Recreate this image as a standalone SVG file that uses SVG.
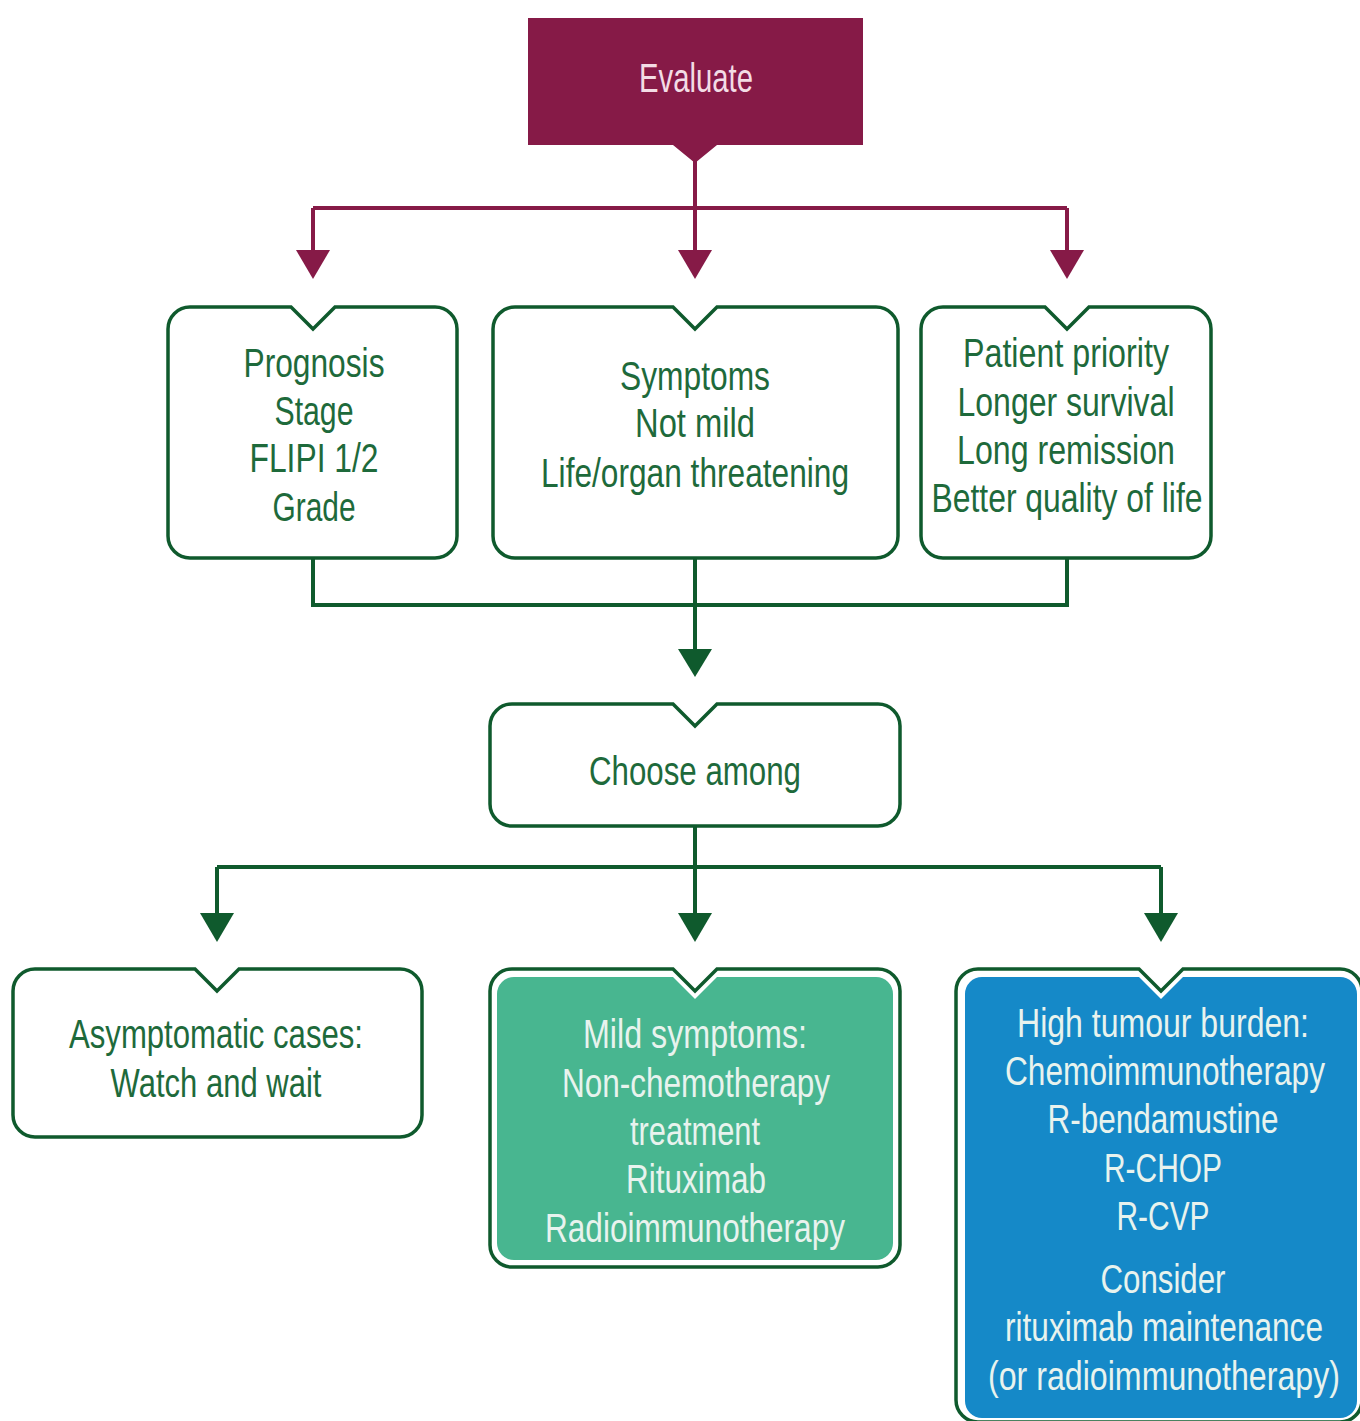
<svg xmlns="http://www.w3.org/2000/svg" width="1360" height="1421" viewBox="0 0 1360 1421">
<defs>
<style>
.t{font-family:"Liberation Sans",Arial,sans-serif;font-size:40px;text-anchor:middle}
.g{fill:#1E6A3B}
.w{fill:#E8F3EE}
.box{fill:#fff;stroke:#0F5A2D;stroke-width:3.5}
.cm{fill:none;stroke:#861A47;stroke-width:4}
.cg{fill:none;stroke:#0F5A2D;stroke-width:4}
</style>
</defs>
<rect width="1360" height="1421" fill="#fff"/>

<g id="connectors">
<path class="cm" d="M695,160 V255 M313,208 H1067 M313,208 V255 M1067,208 V255"/>
<polygon points="296,250 330,250 313,279" fill="#861A47"/>
<polygon points="678,250 712,250 695,279" fill="#861A47"/>
<polygon points="1050,250 1084,250 1067,279" fill="#861A47"/>
<path class="cg" d="M313,558 V605 H1067 V558 M695,558 V655"/>
<polygon points="678,649 712,649 695,677" fill="#0F5A2D"/>
<path class="cg" d="M695,826 V918 M217,867 H1161 M217,867 V918 M1161,867 V918"/>
<polygon points="200,913 234,913 217,942" fill="#0F5A2D"/>
<polygon points="678,913 712,913 695,942" fill="#0F5A2D"/>
<polygon points="1144,913 1178,913 1161,942" fill="#0F5A2D"/>
</g>

<g id="evaluate">
<path d="M528,18 H863 V145 H717 L695,163 L673,145 H528 Z" fill="#861A47"/>
<text class="t" x="696" y="92" fill="#F3DCE5" textLength="114" lengthAdjust="spacingAndGlyphs">Evaluate</text>
</g>

<g id="prognosis">
<path class="box" d="M190,307 H291 L313,329 L335,307 H435 A22,22 0 0 1 457,329 V536 A22,22 0 0 1 435,558 H190 A22,22 0 0 1 168,536 V329 A22,22 0 0 1 190,307 Z"/>
<text class="t g" x="314" y="377" textLength="141" lengthAdjust="spacingAndGlyphs">Prognosis</text>
<text class="t g" x="314" y="425" textLength="79" lengthAdjust="spacingAndGlyphs">Stage</text>
<text class="t g" x="314" y="472" textLength="129" lengthAdjust="spacingAndGlyphs">FLIPI 1/2</text>
<text class="t g" x="314" y="521" textLength="83" lengthAdjust="spacingAndGlyphs">Grade</text>
</g>

<g id="symptoms">
<path class="box" d="M515,307 H673 L695,329 L717,307 H876 A22,22 0 0 1 898,329 V536 A22,22 0 0 1 876,558 H515 A22,22 0 0 1 493,536 V329 A22,22 0 0 1 515,307 Z"/>
<text class="t g" x="695" y="390" textLength="150" lengthAdjust="spacingAndGlyphs">Symptoms</text>
<text class="t g" x="695" y="437" textLength="120" lengthAdjust="spacingAndGlyphs">Not mild</text>
<text class="t g" x="695" y="487" textLength="308" lengthAdjust="spacingAndGlyphs">Life/organ threatening</text>
</g>

<g id="priority">
<path class="box" d="M943,307 H1045 L1067,329 L1089,307 H1189 A22,22 0 0 1 1211,329 V536 A22,22 0 0 1 1189,558 H943 A22,22 0 0 1 921,536 V329 A22,22 0 0 1 943,307 Z"/>
<text class="t g" x="1066" y="367" textLength="206" lengthAdjust="spacingAndGlyphs">Patient priority</text>
<text class="t g" x="1066" y="416" textLength="217" lengthAdjust="spacingAndGlyphs">Longer survival</text>
<text class="t g" x="1066" y="464" textLength="218" lengthAdjust="spacingAndGlyphs">Long remission</text>
<text class="t g" x="1067" y="512" textLength="271" lengthAdjust="spacingAndGlyphs">Better quality of life</text>
</g>

<g id="choose">
<path class="box" d="M512,704 H673 L695,726 L717,704 H878 A22,22 0 0 1 900,726 V804 A22,22 0 0 1 878,826 H512 A22,22 0 0 1 490,804 V726 A22,22 0 0 1 512,704 Z"/>
<text class="t g" x="695" y="785" textLength="212" lengthAdjust="spacingAndGlyphs">Choose among</text>
</g>

<g id="watch">
<path class="box" d="M35,969 H195 L217,991 L239,969 H400 A22,22 0 0 1 422,991 V1115 A22,22 0 0 1 400,1137 H35 A22,22 0 0 1 13,1115 V991 A22,22 0 0 1 35,969 Z"/>
<text class="t g" x="216" y="1048" textLength="294" lengthAdjust="spacingAndGlyphs">Asymptomatic cases:</text>
<text class="t g" x="216" y="1097" textLength="211" lengthAdjust="spacingAndGlyphs">Watch and wait</text>
</g>

<g id="mild">
<path class="box" d="M512,969 H673 L695,991 L717,969 H878 A22,22 0 0 1 900,991 V1245 A22,22 0 0 1 878,1267 H512 A22,22 0 0 1 490,1245 V991 A22,22 0 0 1 512,969 Z"/>
<path fill="#48B690" d="M514,977 H673 L695,999 L717,977 H876 A17,17 0 0 1 893,994 V1243 A17,17 0 0 1 876,1260 H514 A17,17 0 0 1 497,1243 V994 A17,17 0 0 1 514,977 Z"/>
<text class="t w" x="695" y="1048" textLength="224" lengthAdjust="spacingAndGlyphs">Mild symptoms:</text>
<text class="t w" x="696" y="1097" textLength="268" lengthAdjust="spacingAndGlyphs">Non-chemotherapy</text>
<text class="t w" x="695" y="1145" textLength="130" lengthAdjust="spacingAndGlyphs">treatment</text>
<text class="t w" x="696" y="1193" textLength="140" lengthAdjust="spacingAndGlyphs">Rituximab</text>
<text class="t w" x="695" y="1242" textLength="300" lengthAdjust="spacingAndGlyphs">Radioimmunotherapy</text>
</g>

<g id="high">
<path class="box" d="M978,969 H1139 L1161,991 L1183,969 H1340 A22,22 0 0 1 1362,991 V1400 A22,22 0 0 1 1340,1422 H978 A22,22 0 0 1 956,1400 V991 A22,22 0 0 1 978,969 Z"/>
<path fill="#1589C8" d="M982,977 H1139 L1161,999 L1183,977 H1340 A17,17 0 0 1 1357,994 V1401 A17,17 0 0 1 1340,1418 H982 A17,17 0 0 1 965,1401 V994 A17,17 0 0 1 982,977 Z"/>
<text class="t w" x="1163" y="1037" textLength="292" lengthAdjust="spacingAndGlyphs">High tumour burden:</text>
<text class="t w" x="1165" y="1085" textLength="320" lengthAdjust="spacingAndGlyphs">Chemoimmunotherapy</text>
<text class="t w" x="1163" y="1133" textLength="231" lengthAdjust="spacingAndGlyphs">R-bendamustine</text>
<text class="t w" x="1163" y="1182" textLength="118" lengthAdjust="spacingAndGlyphs">R-CHOP</text>
<text class="t w" x="1163" y="1230" textLength="93" lengthAdjust="spacingAndGlyphs">R-CVP</text>
<text class="t w" x="1163" y="1293" textLength="125" lengthAdjust="spacingAndGlyphs">Consider</text>
<text class="t w" x="1164" y="1341" textLength="318" lengthAdjust="spacingAndGlyphs">rituximab maintenance</text>
<text class="t w" x="1164" y="1390" textLength="352" lengthAdjust="spacingAndGlyphs">(or radioimmunotherapy)</text>
</g>
</svg>
